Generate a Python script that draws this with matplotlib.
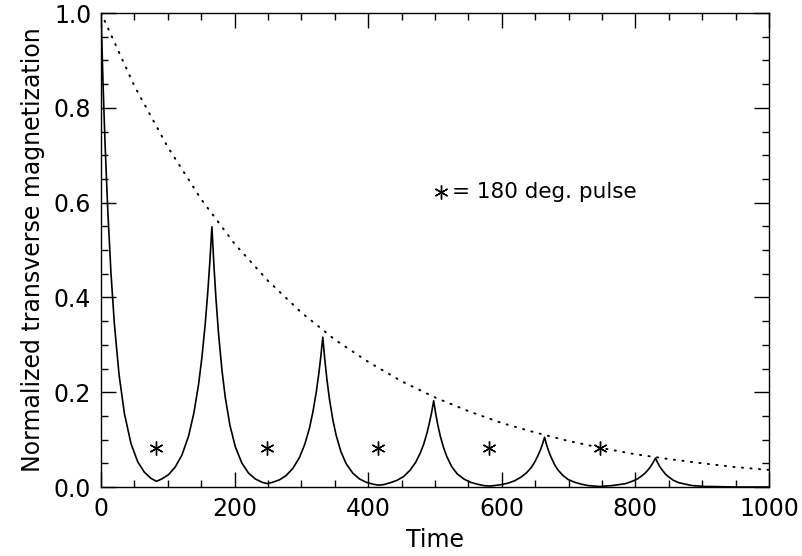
import matplotlib
matplotlib.use("Agg")
from matplotlib import pyplot as plt
from matplotlib.ticker import MultipleLocator, FormatStrFormatter

FILE_NAME = "out.png"
X_LABEL = "Time"
Y_LABEL = "Normalized transverse magnetization"
NOTE = "= 180 deg. pulse"

# solid curve (signal with echoes), one row per echo
echo_t = [0, 3, 6, 10, 15, 20, 27, 35, 45, 55, 65, 75, 83,
          91, 101, 111, 121, 131, 139, 146, 151, 156, 160, 163, 166,
          169, 172, 176, 181, 186, 193, 201, 211, 221, 231, 241, 249,
          257, 267, 277, 287, 297, 305, 312, 317, 322, 326, 329, 332,
          335, 338, 342, 347, 352, 359, 367, 377, 387, 397, 407, 415,
          423, 433, 443, 453, 463, 471, 478, 483, 488, 492, 495, 498,
          501, 504, 508, 513, 518, 525, 533, 543, 553, 563, 573, 581,
          589, 599, 609, 619, 629, 637, 644, 649, 654, 658, 661, 664,
          667, 670, 674, 679, 684, 691, 699, 709, 719, 729, 739, 747,
          755, 765, 775, 785, 795, 803, 810, 815, 820, 824, 827, 830,
          833, 836, 840, 845, 850, 857, 865, 875, 885, 895, 905, 915, 950, 1000]
echo_m = [1.000, 0.852, 0.726, 0.587, 0.449, 0.344, 0.237, 0.155, 0.091, 0.053, 0.031, 0.018, 0.012,
          0.017, 0.026, 0.042, 0.067, 0.107, 0.156, 0.216, 0.273, 0.344, 0.415, 0.477, 0.549,
          0.468, 0.399, 0.322, 0.247, 0.189, 0.130, 0.085, 0.050, 0.029, 0.017, 0.010, 0.007,
          0.010, 0.015, 0.024, 0.039, 0.062, 0.090, 0.124, 0.157, 0.198, 0.239, 0.275, 0.316,
          0.269, 0.229, 0.185, 0.142, 0.109, 0.075, 0.049, 0.029, 0.017, 0.010, 0.006, 0.004,
          0.005, 0.009, 0.014, 0.022, 0.036, 0.052, 0.072, 0.090, 0.114, 0.138, 0.158, 0.182,
          0.155, 0.132, 0.107, 0.082, 0.063, 0.043, 0.028, 0.017, 0.010, 0.006, 0.003, 0.002,
          0.003, 0.005, 0.008, 0.013, 0.021, 0.030, 0.041, 0.052, 0.066, 0.079, 0.091, 0.105,
          0.089, 0.076, 0.062, 0.047, 0.036, 0.025, 0.016, 0.010, 0.006, 0.003, 0.002, 0.001,
          0.002, 0.003, 0.005, 0.007, 0.012, 0.017, 0.024, 0.030, 0.038, 0.046, 0.053, 0.061,
          0.052, 0.044, 0.036, 0.027, 0.021, 0.014, 0.009, 0.006, 0.003, 0.002, 0.001, 0.001, 0.000, 0.000]

# dotted envelope
env_t = [0, 50, 100, 150, 200, 250, 300, 350, 400, 450, 500,
         550, 600, 650, 700, 750, 800, 850, 900, 950, 1000]
env_m = [1.000, 0.846, 0.717, 0.607, 0.513, 0.435, 0.368, 0.311, 0.264, 0.223, 0.189,
         0.160, 0.135, 0.115, 0.097, 0.082, 0.069, 0.059, 0.050, 0.042, 0.036]

# 180 deg pulses
pulse_t = [83, 249, 415, 581, 747]
pulse_m = [0.082, 0.082, 0.082, 0.082, 0.082]

STAR = (6, 2, 0)

fig = plt.figure(figsize=(8.03, 5.56), dpi=100)
ax = fig.add_axes([0.1258, 0.1241, 0.8319, 0.8525])

ax.plot(echo_t, echo_m, color='black', lw=1.2)
ax.plot(env_t, env_m, color='black', lw=1.4, linestyle=(0, (0.6, 3.8)), dash_capstyle='round')
ax.plot(pulse_t, pulse_m, linestyle='none', marker=STAR, markersize=10,
        markeredgewidth=1.0, color='black')

# note: star symbol then text
ax.plot([509], [0.622], marker=STAR, markersize=10, markeredgewidth=1.0, color='black')
ax.text(525, 0.622, NOTE, fontsize=15.5, va='center', ha='left')

ax.set_xlim(0, 1000)
ax.set_ylim(0, 1.0)
ax.xaxis.set_major_locator(MultipleLocator(200))
ax.xaxis.set_minor_locator(MultipleLocator(50))
ax.yaxis.set_major_locator(MultipleLocator(0.2))
ax.yaxis.set_minor_locator(MultipleLocator(0.05))
ax.yaxis.set_major_formatter(FormatStrFormatter('%.1f'))

ax.tick_params(which='both', direction='in', top=True, right=True, width=1.0,
               labelsize=17, pad=7)
ax.tick_params(which='major', length=11)
ax.tick_params(which='minor', length=5)
for s in ax.spines.values():
    s.set_linewidth(1.0)

ax.set_xlabel(X_LABEL, fontsize=17, labelpad=5)
ax.set_ylabel(Y_LABEL, fontsize=17, labelpad=6)

fig.savefig(FILE_NAME, dpi=100)
